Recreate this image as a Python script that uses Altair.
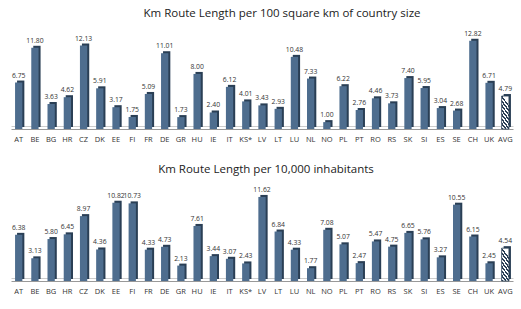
import altair as alt
import pandas as pd

countries = ["AT", "BE", "BG", "HR", "CZ", "DK", "EE", "FI", "FR", "DE", "GR", "HU",
             "IE", "IT", "KS*", "LV", "LT", "LU", "NL", "NO", "PL", "PT", "RO", "RS",
             "SK", "SI", "ES", "SE", "CH", "UK", "AVG"]
per_area = [6.75, 11.80, 3.63, 4.62, 12.13, 5.91, 3.17, 1.75, 5.09, 11.01, 1.73, 8.00,
            2.40, 6.12, 4.01, 3.43, 2.93, 10.48, 7.33, 1.00, 6.22, 2.76, 4.46, 3.73,
            7.40, 5.95, 3.04, 2.68, 12.82, 6.71, 4.79]
per_pop = [6.38, 3.13, 5.80, 6.45, 8.97, 4.36, 10.82, 10.73, 4.33, 4.73, 2.13, 7.61,
           3.44, 3.07, 2.43, 11.62, 6.84, 4.33, 1.77, 7.08, 5.07, 2.47, 5.47, 4.75,
           6.65, 5.76, 3.27, 10.55, 6.15, 2.45, 4.54]
title_area = "Km Route Length per 100 square km of country size"
title_pop = "Km Route Length per 10,000 inhabitants"

FRONT = "#4e6d8e"
SIDE = "#2a3f55"
FONT = "Open Sans"

stops = []
n = 16
for i in range(n):
    c = SIDE if i % 2 == 0 else "#ffffff"
    stops.append(alt.GradientStop(color=c, offset=i / n))
    stops.append(alt.GradientStop(color=c, offset=(i + 1) / n))
stripes = alt.Gradient(gradient="linear", stops=stops, x1=0, y1=1, x2=0.3, y2=0)


def panel(vals, title, ymax, height, dx):
    df = pd.DataFrame({"cat": countries, "val": vals})
    x = alt.X("cat:N", sort=countries,
              scale=alt.Scale(paddingInner=0.55, paddingOuter=0.25),
              axis=alt.Axis(title=None, labelAngle=0, domain=True, domainColor="#999999",
                            ticks=False, labelFont=FONT, labelFontSize=7.5,
                            labelColor="#333333", labelPadding=6))
    y = alt.Y("val:Q", scale=alt.Scale(domain=[0, ymax]),
              axis=alt.Axis(values=[0.45], grid=True, gridColor="#cccccc", labels=False,
                            ticks=False, domain=False, title=None))
    base = alt.Chart(df).encode(x=x, y=y)
    side = base.mark_bar(color=SIDE, xOffset=2, yOffset=-2)
    front = base.mark_bar(color=FRONT).transform_filter(alt.datum.cat != "AVG")
    avg = base.mark_bar(color=stripes, stroke=SIDE, strokeWidth=0.8).transform_filter(
        alt.datum.cat == "AVG")
    text = base.mark_text(dy=-7, font=FONT, fontSize=6.8, color="#333333").encode(
        text=alt.Text("val:Q", format=".2f"))
    return alt.layer(side, front, avg, text).properties(
        width=502, height=height,
        title=alt.TitleParams(title, font=FONT, fontSize=11.5, fontWeight="normal",
                              color="#222222", dx=dx, offset=4))


top = panel(per_area, title_area, 15.4, 106, 20)
bottom = panel(per_pop, title_pop, 14.1, 102, 4)

chart = alt.vconcat(top, bottom, spacing=20).properties(
    padding={"left": 11, "top": 7, "right": 5, "bottom": 5}
).configure_view(stroke="transparent", strokeWidth=0)

chart.save("out.html", embed_options={"renderer": "svg", "actions": False})
